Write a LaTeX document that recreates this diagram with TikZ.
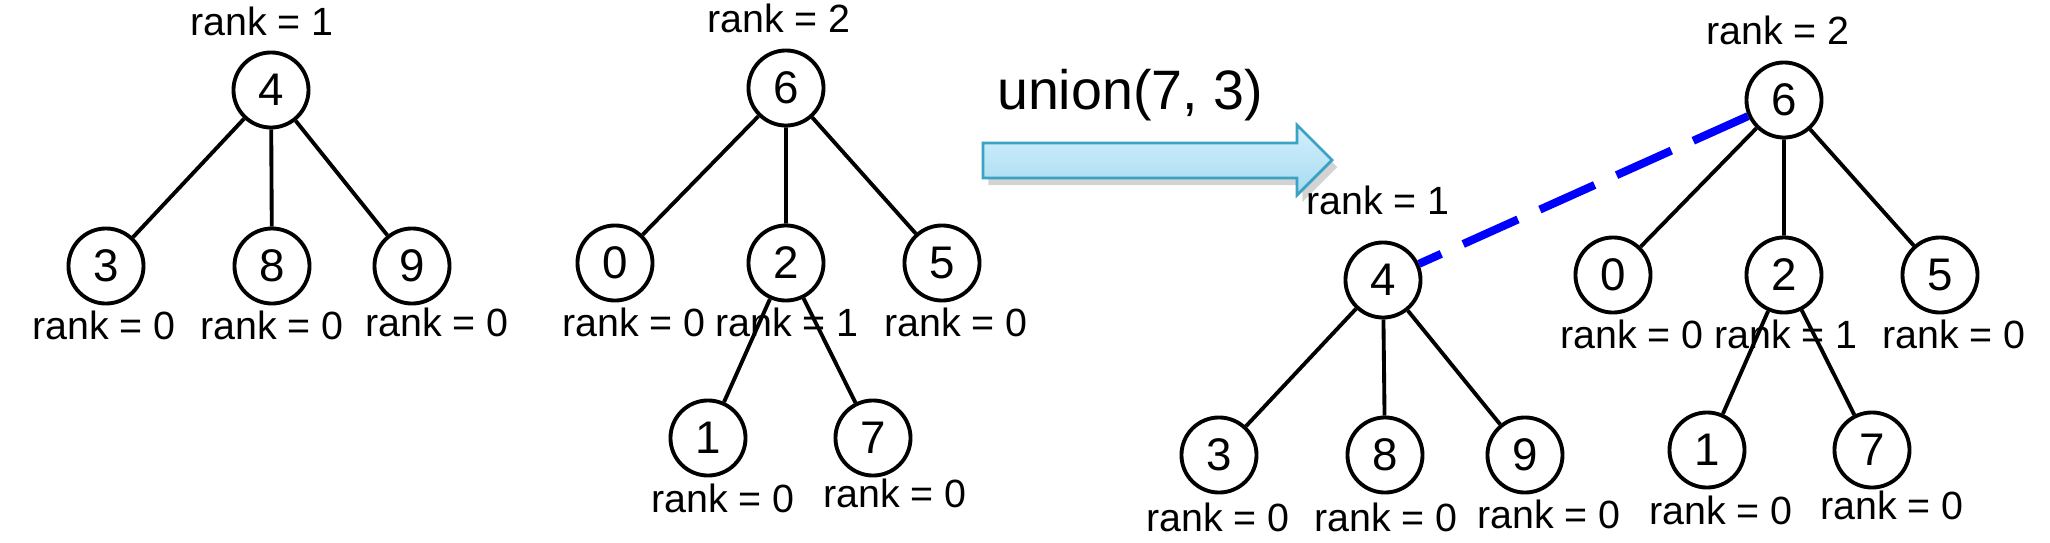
\documentclass[tikz,border=0pt]{standalone}
\usepackage{fontspec}
\setmainfont{Liberation Sans}
\usetikzlibrary{shadows}
\definecolor{arrowline}{HTML}{3AA2C3}
\definecolor{arrowtop}{HTML}{D3F0FC}
\definecolor{arrowbot}{HTML}{A6DBF1}

\begin{document}
\begin{tikzpicture}[x=0.01cm, y=-0.01cm,
    vertex/.style={circle, draw, line width=1.1pt, minimum size=0.75cm, inner sep=0pt, font=\fontsize{13}{13}\selectfont},
    rk/.style={inner sep=0pt, font=\fontsize{11.2}{12}\selectfont},
    edge/.style={line width=1.1pt},
    link/.style={line width=2.3pt, blue, dash pattern=on 0.6cm off 0.24cm}]
  \useasboundingbox (0,0) rectangle (2050,542);
        \begin{scope}[shift={(271,90)}]
            \node[vertex] (A4) at (0,0) {4};
            \node[vertex] (A3) at (-165,176) {3};
            \node[vertex] (A8) at (1,176) {8};
            \node[vertex] (A9) at (141,176) {9};
            \node[rk] (A4r) at (-9,-69) {rank = 1};
            \node[rk] (A3r) at (-167,235) {rank = 0};
            \node[rk] (A8r) at (1,235) {rank = 0};
            \node[rk] (A9r) at (166,232) {rank = 0};
            \draw[edge] (A4) -- (A3) (A4) -- (A8) (A4) -- (A9);
        \end{scope}
        \begin{scope}[shift={(786,88)}]
            \node[vertex] (B6) at (0,0) {6};
            \node[vertex] (B0) at (-171,175) {0};
            \node[vertex] (B2) at (0,175) {2};
            \node[vertex] (B5) at (156,175) {5};
            \node[vertex] (B1) at (-78,350) {1};
            \node[vertex] (B7) at (87,350) {7};
            \node[rk] (B6r) at (-7,-70) {rank = 2};
            \node[rk] (B0r) at (-152,234) {rank = 0};
            \node[rk] (B2r) at (1,234) {rank = 1};
            \node[rk] (B5r) at (170,234) {rank = 0};
            \node[rk] (B1r) at (-63,410) {rank = 0};
            \node[rk] (B7r) at (109,405) {rank = 0};
            \draw[edge] (B6) -- (B0) (B6) -- (B2) (B6) -- (B5) (B2) -- (B1) (B2) -- (B7);
        \end{scope}
        \path[draw=arrowline, line width=0.8pt, top color=arrowtop, bottom color=arrowbot,
              drop shadow={opacity=0.35, shadow xshift=1.5pt, shadow yshift=-2pt}]
            (983,143) -- (1297,143) -- (1297,125) -- (1332,160) -- (1297,195) -- (1297,178) -- (983,178) -- cycle;
        \node[inner sep=0pt, font=\fontsize{15.8}{18}\selectfont] (op) at (1130,95) {union(7, 3)};
        \begin{scope}[shift={(1383,280)}]
            \node[vertex] (C4) at (0,0) {4};
            \node[vertex] (C3) at (-164,175) {3};
            \node[vertex] (C8) at (2,175) {8};
            \node[vertex] (C9) at (142,175) {9};
            \node[rk] (C4r) at (-5,-80) {rank = 1};
            \node[rk] (C3r) at (-165,237) {rank = 0};
            \node[rk] (C8r) at (3,237) {rank = 0};
            \node[rk] (C9r) at (166,234) {rank = 0};
            \draw[edge] (C4) -- (C3) (C4) -- (C8) (C4) -- (C9);
        \end{scope}
        \begin{scope}[shift={(1784,100)}]
            \node[vertex] (D6) at (0,0) {6};
            \node[vertex] (D0) at (-171,175) {0};
            \node[vertex] (D2) at (0,175) {2};
            \node[vertex] (D5) at (156,175) {5};
            \node[vertex] (D1) at (-77,350) {1};
            \node[vertex] (D7) at (88,350) {7};
            \node[rk] (D6r) at (-6,-70) {rank = 2};
            \node[rk] (D0r) at (-152,234) {rank = 0};
            \node[rk] (D2r) at (2,234) {rank = 1};
            \node[rk] (D5r) at (170,234) {rank = 0};
            \node[rk] (D1r) at (-63,410) {rank = 0};
            \node[rk] (D7r) at (108,405) {rank = 0};
            \draw[edge] (D6) -- (D0) (D6) -- (D2) (D6) -- (D5) (D2) -- (D1) (D2) -- (D7);
        \end{scope}
        \draw[link] (D6) -- (C4);
\end{tikzpicture}
\end{document}
